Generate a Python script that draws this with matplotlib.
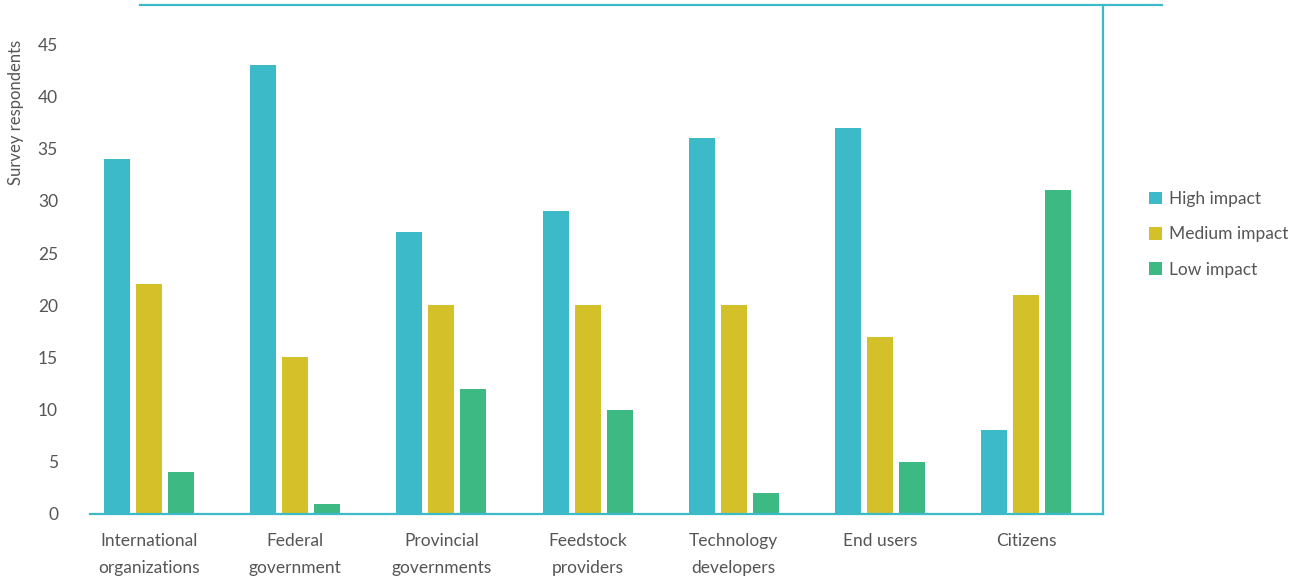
import matplotlib
matplotlib.use("Agg")
import matplotlib.pyplot as plt
import numpy as np
from matplotlib.lines import Line2D
from matplotlib.patches import Patch

categories = ["International\norganizations", "Federal\ngovernment", "Provincial\ngovernments",
              "Feedstock\nproviders", "Technology\ndevelopers", "End users", "Citizens"]
series_names = ["High impact", "Medium impact", "Low impact"]
high = [34, 43, 27, 29, 36, 37, 8]
medium = [22, 15, 20, 20, 20, 17, 21]
low = [4, 1, 12, 10, 2, 5, 31]
yticks = [0, 5, 10, 15, 20, 25, 30, 35, 40, 45]

colors = ["#3CBAC7", "#D4C12A", "#3DB984"]
teal = "#3CBAC7"
text_color = "#555555"

plt.rcParams['font.family'] = ['Lato', 'DejaVu Sans']

W, H = 1299, 580
fig = plt.figure(figsize=(W / 100, H / 100), dpi=100)
left_px, right_px, top_px, bottom_px = 90, 1103, 5, 514
ax = fig.add_axes([left_px / W, 1 - bottom_px / H, (right_px - left_px) / W, (bottom_px - top_px) / H])

x = np.arange(len(categories))
width = 0.178
offset = 0.219
for i, (vals, name) in enumerate(zip([high, medium, low], series_names)):
    ax.bar(x + (i - 1) * offset, vals, width, color=colors[i], label=name)

px_per_unit = 10.44
ax.set_ylim(0, (bottom_px - top_px) / px_per_unit)
spacing = 146.2
first_center = 149
ax.set_xlim((left_px - first_center) / spacing, (right_px - first_center) / spacing)

ax.set_yticks(yticks)
ax.set_yticklabels([str(v) for v in yticks], fontsize=12.5, color=text_color)
ax.set_xticks(x)
ax.set_xticklabels(categories, fontsize=12.5, color=text_color, linespacing=1.8)
ax.tick_params(axis='both', length=0)
ax.tick_params(axis='y', pad=23)
ax.tick_params(axis='x', pad=14)

for s in ["top", "left"]:
    ax.spines[s].set_visible(False)
for s in ["bottom", "right"]:
    ax.spines[s].set_color(teal)
    ax.spines[s].set_linewidth(1.6)

# top decorative line
fig.add_artist(Line2D([140 / W, 1162 / W], [1 - 5 / H, 1 - 5 / H], color=teal, linewidth=1.6))

fig.text(16 / W, 1 - 112 / H, "Survey respondents", rotation=90, ha="center", va="center",
         fontsize=12, color=text_color)

handles = [Patch(facecolor=c, edgecolor='none') for c in colors]
fig.legend(handles, series_names, loc="upper left", bbox_to_anchor=(1142 / W, 1 - 184 / H),
           frameon=False, fontsize=12.5, labelcolor=text_color, handlelength=0.75, handleheight=0.75,
           handletextpad=0.4, labelspacing=1.12, borderaxespad=0)

fig.savefig("out.png", dpi=100)
